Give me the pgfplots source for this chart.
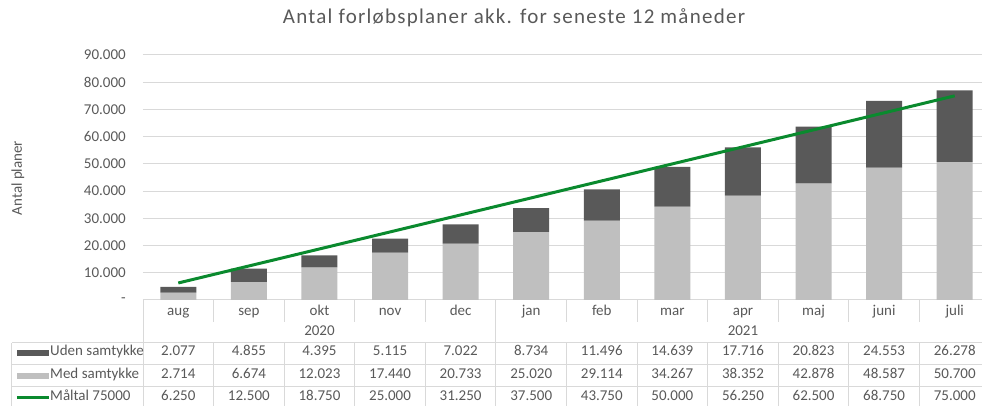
\documentclass[border=0pt]{standalone}
\usepackage{pgfplots}
\pgfplotsset{compat=1.18}
\usepackage{fontspec}
\setmainfont{Carlito}
\definecolor{darkbar}{HTML}{595959}
\definecolor{lightbar}{HTML}{BFBFBF}
\definecolor{goal}{HTML}{0A8A2E}
\definecolor{gridc}{HTML}{D9D9D9}
\definecolor{txt}{HTML}{595959}
\begin{document}
\begin{tikzpicture}[font=\fontsize{15}{18}\selectfont]
\path[use as bounding box] (-143pt,-106pt) rectangle (839pt,300pt);
\pgfmathsetmacro{\w}{847/12}
\begin{axis}[
  at={(0,0)}, anchor=south west,
  width=847pt, height=245pt, scale only axis,
  xmin=-0.5, xmax=11.5, ymin=0, ymax=90000,
  clip=false,
  axis line style={draw=none},
  xtick=\empty,
  scaled y ticks=false,
  ytick={0,10000,20000,30000,40000,50000,60000,70000,80000,90000},
  yticklabels={-\hspace{9pt},10.000,20.000,30.000,40.000,50.000,60.000,70.000,80.000,90.000},
  major tick length=0pt,
  ymajorgrids, grid style={gridc, line width=1pt},
  yticklabel style={text=txt, anchor=east, inner sep=0pt, xshift=-17pt, font=\fontsize{15}{18}\selectfont},
]
\addplot[ybar, bar width=36pt, stack plots=y, fill=lightbar, draw=none] coordinates {
 (0,2714) (1,6674) (2,12023) (3,17440) (4,20733) (5,25020)
 (6,29114) (7,34267) (8,38352) (9,42878) (10,48587) (11,50700)};
\addplot[ybar, bar width=36pt, stack plots=y, fill=darkbar, draw=none] coordinates {
 (0,2077) (1,4855) (2,4395) (3,5115) (4,7022) (5,8734)
 (6,11496) (7,14639) (8,17716) (9,20823) (10,24553) (11,26278)};
\addplot[sharp plot, stack plots=false, goal, line width=3pt, mark=none] coordinates {
 (0,6250) (1,12500) (2,18750) (3,25000) (4,31250) (5,37500)
 (6,43750) (7,50000) (8,56250) (9,62500) (10,68750) (11,75000)};
\end{axis}
% title and y label
\node[text=txt, font=\fontsize{21}{24}\selectfont\addfontfeature{LetterSpace=6}] at (371pt,282pt) {Antal forløbsplaner akk. for seneste 12 måneder};
\node[text=txt, rotate=90] at (-125pt,122pt) {Antal planer};
% data table grid
\begin{scope}[gridc, line width=1pt]
\draw (0,0) -- (0,-106pt);
\foreach \i in {1,...,11} {
  \draw ({\i*\w pt},0) -- ({\i*\w pt},-22pt);
  \draw ({\i*\w pt},-43pt) -- ({\i*\w pt},-106pt);
}
\draw ({5*\w pt},0) -- ({5*\w pt},-106pt);
\draw ({12*\w pt},0) -- ({12*\w pt},-106pt);
\draw (-131pt,-43pt) -- ({12*\w pt},-43pt);
\draw (-131pt,-64.5pt) -- ({12*\w pt},-64.5pt);
\draw (-131pt,-86.5pt) -- ({12*\w pt},-86.5pt);
\draw (-131pt,-43pt) -- (-131pt,-106pt);
\end{scope}
\begin{scope}[every node/.style={text=txt, text height=1.5ex, text depth=0.3ex, inner sep=0pt}]
\foreach \m [count=\i from 0] in {aug,sep,okt,nov,dec,jan,feb,mar,apr,maj,juni,juli}
  \node at ({(\i+0.5)*\w pt},-13pt) {\m};
\node at ({2.5*\w pt},-33pt) {2020};
\node at ({8.5*\w pt},-33pt) {2021};
\foreach \u/\m/\g [count=\i from 0] in {2.077/2.714/6.250, 4.855/6.674/12.500, 4.395/12.023/18.750, 5.115/17.440/25.000, 7.022/20.733/31.250, 8.734/25.020/37.500, 11.496/29.114/43.750, 14.639/34.267/50.000, 17.716/38.352/56.250, 20.823/42.878/62.500, 24.553/48.587/68.750, 26.278/50.700/75.000} {
  \node at ({(\i+0.5)*\w pt},-53pt) {\u};
  \node at ({(\i+0.5)*\w pt},-76pt) {\m};
  \node at ({(\i+0.5)*\w pt},-98pt) {\g};
}
\fill[darkbar] (-126pt,-56pt) rectangle (-94pt,-50pt);
\fill[lightbar] (-126pt,-79pt) rectangle (-94pt,-73pt);
\draw[goal, line width=3pt] (-126pt,-98pt) -- (-94pt,-98pt);
\node[anchor=west] at (-93pt,-53pt) {Uden samtykke};
\node[anchor=west] at (-93pt,-76pt) {Med samtykke};
\node[anchor=west] at (-93pt,-98pt) {Måltal 75000};
\end{scope}
\end{tikzpicture}
\end{document}
